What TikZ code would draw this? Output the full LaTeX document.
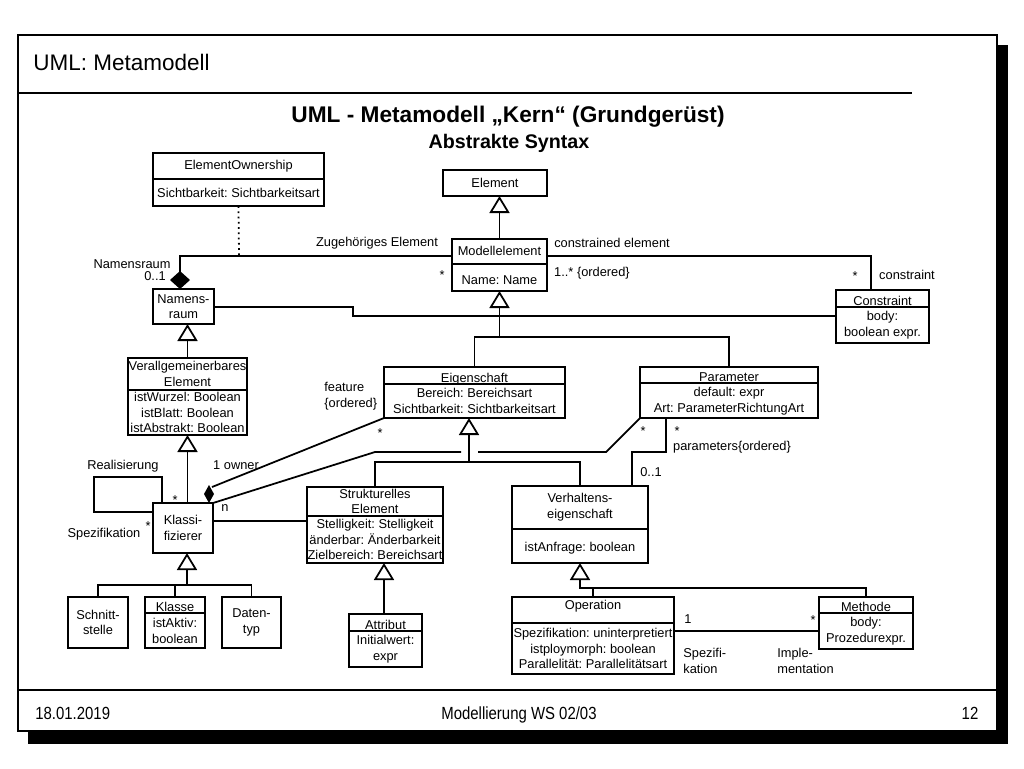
\documentclass[tikz,border=0pt]{standalone}
\usepackage{fontspec}
\setmainfont{Liberation Sans}
\newfontfamily\narrowfont[FakeStretch=0.85]{Liberation Sans}
\usetikzlibrary{arrows.meta}
\frenchspacing
\newcommand\fs{\fontsize{7.3}{8.8}\selectfont}
\newcommand\umlbox[5]{\node[box, minimum width={(#4-#2)*0.02cm}, minimum height={(#5-#3)*0.02cm}] (#1) at ({(#2+#4)/2},{(#3+#5)/2}) {};}
\newcommand\umldiv[2]{\draw[ln] (#1.west |- 0,#2) -- (#1.east |- 0,#2);}
\begin{document}
\begin{tikzpicture}[x=0.02cm,y=-0.02cm,
  box/.style={draw, line width=1pt, inner sep=0pt, outer sep=0pt, fill=white},
  txt/.style={inner sep=0pt, font=\fs, align=center},
  lbl/.style={inner sep=0pt, font=\fs},
  ln/.style={line width=1pt},
  gen/.style={ln, -{Triangle[open, length=0.34cm, width=0.4cm]}},
  comp/.style={ln, {Diamond[length=0.36cm, width=0.4cm]}-},
  foot/.style={inner sep=0pt, anchor=base, font=\narrowfont\fontsize{10}{12}\selectfont}]
\useasboundingbox (0,0) rectangle (1024,768);
\fill[white] (0,0) rectangle (1024,768);
% frame
\fill[black] (28,45) rectangle (1008,744);
\draw[line width=1pt, fill=white] (18,35) rectangle (997,731);
\draw[ln] (18,93) -- (912,93);
\draw[ln] (18,690) -- (997,690);
\node[anchor=west, inner sep=0pt, font=\fontsize{12.8}{15}\selectfont] (title) at (33,62) {UML: Metamodell};
\node[inner sep=0pt, font=\bfseries\fontsize{12.9}{15}\selectfont] (head) at (508,117) {UML - Metamodell „Kern“ (Grundgerüst)};
\node[inner sep=0pt, font=\bfseries\fontsize{11.2}{13}\selectfont] (sub) at (509,143) {Abstrakte Syntax};
\node[foot, anchor=base west] (date) at (35,719) {18.01.2019};
\node[foot] (course) at (519,719) {Modellierung WS 02/03};
\node[foot] (page) at (970,719) {12};

% boxes
\umlbox{eo}{153}{153}{324}{206} \umldiv{eo}{179}
\node[txt] (eoT) at (238.5,166) {ElementOwnership};
\node[txt] (eoA) at (238.5,193) {Sichtbarkeit: Sichtbarkeitsart};

\umlbox{elem}{443}{170}{547}{196}
\node[txt] (elemT) at (495,183) {Element};

\umlbox{modell}{452}{239}{547}{291} \umldiv{modell}{264}
\node[txt] (modellT) at (499.5,251) {Modellelement};
\node[txt] (modellA) at (499.5,280) {Name: Name};

\umlbox{nsr}{153}{289}{214}{324}
\node[txt] (nsrT) at (183.5,306.5) {Namens-\\raum};

\umlbox{constr}{836}{290}{929}{343} \umldiv{constr}{307}
\node[txt, anchor=base] (constrT) at (882.5,305) {Constraint};
\node[txt] (constrA) at (882.5,325) {body:\\boolean expr.};

\umlbox{verall}{128}{358}{247}{435} \umldiv{verall}{390}
\node[txt] (verallT) at (187.5,374) {Verallgemeinerbares\\Element};
\node[txt] (verallA) at (187.5,412.5) {istWurzel: Boolean\\istBlatt: Boolean\\istAbstrakt: Boolean};

\umlbox{klass}{153}{503}{213}{553}
\node[txt] (klassT) at (183,528) {Klassi-\\fizierer};

\umlbox{eig}{384}{367}{565}{418} \umldiv{eig}{384}
\node[txt, anchor=base] (eigT) at (474.5,382) {Eigenschaft};
\node[txt] (eigA) at (474.5,401) {Bereich: Bereichsart\\Sichtbarkeit: Sichtbarkeitsart};

\umlbox{param}{640}{367}{818}{418} \umldiv{param}{383}
\node[txt, anchor=base] (paramT) at (729,381) {Parameter};
\node[txt] (paramA) at (729,401) {default: expr\\Art: ParameterRichtungArt};

\umlbox{struk}{307}{487}{443}{563} \umldiv{struk}{516}
\node[txt] (strukT) at (375,501.5) {Strukturelles\\Element};
\node[txt] (strukA) at (375,539.5) {Stelligkeit: Stelligkeit\\änderbar: Änderbarkeit\\Zielbereich: Bereichsart};

\umlbox{verh}{512}{486}{648}{563} \umldiv{verh}{529}
\node[txt] (verhT) at (580,507) {Verhaltens-\\eigenschaft};
\node[txt] (verhA) at (580,548) {istAnfrage: boolean};

\umlbox{attr}{349}{614}{422}{667} \umldiv{attr}{631}
\node[txt, anchor=base] (attrT) at (385.5,629) {Attribut};
\node[txt] (attrA) at (385.5,649) {Initialwert:\\expr};

\umlbox{schn}{68}{597}{128}{648}
\node[txt] (schnT) at (98,622.5) {Schnitt-\\stelle};

\umlbox{klasse}{145}{597}{205}{648} \umldiv{klasse}{613}
\node[txt, anchor=base] (klasseT) at (175,611) {Klasse};
\node[txt] (klasseA) at (175,631) {istAktiv:\\boolean};

\umlbox{daten}{222}{597}{281}{648}
\node[txt] (datenT) at (251.5,622.5) {Daten-\\typ};

\umlbox{oper}{512}{597}{674}{674} \umldiv{oper}{623}
\node[txt] (operT) at (593,606) {Operation};
\node[txt] (operA) at (593,648.5) {Spezifikation: uninterpretiert\\istploymorph: boolean\\Parallelität: Parallelitätsart};

\umlbox{meth}{819}{597}{913}{649} \umldiv{meth}{613}
\node[txt, anchor=base] (methT) at (866,611) {Methode};
\node[txt] (methA) at (866,631) {body:\\Prozedurexpr.};

% connectors
\coordinate (own) at (239,256);
\draw[ln, dotted] (eo.south) -- (own);
\draw[comp] (nsr.north -| 180,0) -- (180,256) -- (modell.west |- 0,256);
\draw[ln] (nsr.east |- 0,307) -- (353,307) -- (353,316) -- (constr.west |- 0,316);
\draw[gen] (modell.north) -- (modell.north |- elem.south);
\draw[ln] (modell.east |- 0,256) -- (871,256) -- (constr.north -| 871,0);
\draw[ln] (eig.north) -- (eig.north |- 0,337) -- (param.north |- 0,337) -- (param.north);
\draw[gen] (modell.south |- 0,337) -- (modell.south);
\draw[gen] (verall.north) -- (verall.north |- nsr.south);
\draw[gen] (klass.north -| verall.south) -- (verall.south);
\draw[ln] (klass.north -| 162,0) -- (162,477) -- (94,477) -- (94,512) -- (klass.west |- 0,512);
\fill (209,503) -- (214,494) -- (209,485) -- (204,494) -- cycle;
\draw[ln] (eig.south west) -- (212,487);
\draw[ln] (klass.north east) -- (375,452) -- (461,452);
\draw[ln] (478,452) -- (606,452) -- (param.south west);
\draw[ln] (klass.east |- 0,521) -- (struk.west |- 0,521);
\draw[gen] (469,462) -- (eig.south -| 469,0);
\draw[ln] (struk.north) |- (verh.north |- 0,462) -- (verh.north);
\draw[ln] (param.south -| 666,0) -- (666,452) -- (632,452) -- (verh.north -| 632,0);
\draw[gen] (attr.north -| 384,0) -- (struk.south -| 384,0);
\draw[gen] (187,585) -- (klass.south -| 187,0);
\draw[ln] (schn.north) |- (daten.north |- 0,585) -- (daten.north);
\draw[ln] (klasse.north) -- (klasse.north |- 0,585);
\draw[gen] (meth.north) |- (verh.south |- 0,588) -- (verh.south);
\draw[ln] (oper.north) -- (oper.north |- 0,588);
\draw[ln] (oper.east |- 0,631) -- (meth.west |- 0,631);

% labels
\node[lbl] (l1) at (132,264) {Namensraum};
\node[lbl] (l2) at (155,276) {0..1};
\node[lbl] (l3) at (377,243) {Zugehöriges Element};
\node[lbl] (l4) at (442,275) {*};
\node[lbl] (l5) at (612,243) {constrained element};
\node[lbl] (l6) at (592,273) {1..* \{ordered\}};
\node[lbl] (l7) at (855,276) {*};
\node[lbl] (l8) at (907,275) {constraint};
\node[lbl, align=left, anchor=west] (l9) at (324,396) {feature\\\{ordered\}};
\node[lbl] (l10) at (380,433) {*};
\node[lbl] (l11) at (236,465) {1 owner};
\node[lbl] (l12) at (225,508) {n};
\node[lbl] (l13) at (123,466) {Realisierung};
\node[lbl] (l14) at (175,500) {*};
\node[lbl] (l15) at (148,526) {*};
\node[lbl] (l16) at (104,534) {Spezifikation};
\node[lbl] (l17) at (643,431) {*};
\node[lbl] (l18) at (677,431) {*};
\node[lbl] (l19) at (732,447) {parameters\{ordered\}};
\node[lbl] (l20) at (651,472) {0..1};
\node[lbl] (l21) at (688,619) {1};
\node[lbl] (l22) at (813,620) {*};
\node[lbl, align=left, anchor=west] (l23) at (683,661) {Spezifi-\\kation};
\node[lbl, align=left, anchor=west] (l24) at (777,661) {Imple-\\mentation};
\end{tikzpicture}
\end{document}
